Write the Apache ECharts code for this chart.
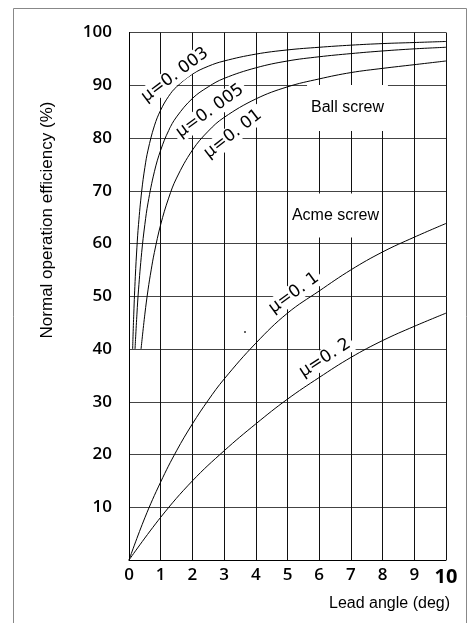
<!DOCTYPE html>
<html>
<head>
<meta charset="utf-8">
<script src="https://cdn.jsdelivr.net/npm/echarts@6/dist/echarts.min.js"></script>
<style>
html,body{margin:0;padding:0;background:#fff;}
#chart{width:472px;height:623px;}
</style>
</head>
<body>
<div id="chart"></div>
<script>
// Lead angle (deg) vs normal operation efficiency (%)
var mu003 = [[0.115,40],[0.15,46.6],[0.2,53.8],[0.25,59.3],[0.3,63.6],[0.4,69.9],[0.5,74.4],[0.6,77.7],[0.8,82.3],[1,85.3],[1.25,87.9],[1.5,89.7],[2,92.1],[2.5,93.6],[3,94.6],[4,95.9],[5,96.7],[6,97.2],[7,97.6],[8,97.9],[9,98.1],[10,98.3]];
var mu005 = [[0.19,40],[0.25,46.6],[0.3,51.2],[0.4,58.3],[0.5,63.6],[0.6,67.7],[0.8,73.6],[1,77.7],[1.25,81.4],[1.5,84.0],[2,87.5],[2.5,89.7],[3,91.3],[4,93.3],[5,94.6],[6,95.4],[7,96.0],[8,96.5],[9,96.9],[10,97.2]];
var mu01 = [[0.38,40],[0.5,46.6],[0.6,51.2],[0.7,55.0],[0.8,58.3],[1,63.6],[1.25,68.6],[1.5,72.4],[2,77.7],[2.5,81.3],[3,83.9],[4,87.4],[5,89.7],[6,91.2],[7,92.4],[8,93.2],[9,93.9],[10,94.6]];
var mu1 = [[0,0],[0.5,8.0],[1,14.8],[1.5,20.7],[2,25.8],[2.5,30.3],[3,34.3],[4,41.1],[5,46.8],[6,51.0],[7,55.0],[8,58.4],[9,61.2],[10,63.8]];
var mu2 = [[0,0],[1,8.1],[2,15.0],[3,20.7],[4,25.8],[5,30.5],[6,34.6],[7,38.4],[8,41.6],[9,44.3],[10,46.8]];
var stray = [[3.66,43.2]];
var xTicks = ['0','1','2','3','4','5','6','7','8','9','10'];
var yTicks = ['','10','20','30','40','50','60','70','80','90','100'];
var xTitle = 'Lead angle (deg)';
var yTitle = 'Normal operation efficiency (%)';
var curveLabels = ['μ=0. 003','μ=0. 005','μ=0. 01','μ=0. 1','μ=0. 2'];
var regionLabels = ['Ball screw','Acme screw'];

var chart = echarts.init(document.getElementById('chart'), null, {renderer:'canvas'});
function line(name, data){
  return {name:name, type:'line', data:data, showSymbol:false, symbol:'none', smooth:0.4,
    lineStyle:{color:'#000', width:1}, z:5, silent:true, animation:false};
}
var font = 'Liberation Sans, Arial, sans-serif';
var tickFont = '"Open Sans", "Noto Sans", sans-serif';
var deg = Math.PI/180;
function muLabel(text, x, y, rot){
  return {type:'text', x:x, y:y, rotation:rot*deg, z:100,
    style:{text:text, fill:'#000', font:'17px "DejaVu Sans", sans-serif', align:'center', verticalAlign:'middle',
      backgroundColor:'#fff', padding:[1,3]}};
}
var option = {
  animation:false,
  backgroundColor:'#fff',
  grid:{left:129, right:26, top:32.5, bottom:63, containLabel:false},
  xAxis:{type:'value', min:0, max:10, interval:1,
    axisLine:{show:true, onZero:false, lineStyle:{color:'#000', width:1}},
    axisTick:{show:false},
    axisLabel:{margin:7, color:'#000', fontFamily:tickFont, fontSize:17, fontWeight:600,
      formatter:function(v){var s = xTicks[Math.round(v)]; return s==='10' ? '{b|'+s+'}' : s;},
      rich:{b:{fontFamily:tickFont, fontSize:20, fontWeight:'bold', color:'#000'}}},
    splitLine:{show:true, lineStyle:{color:'#111', width:1}}
  },
  yAxis:{type:'value', min:0, max:100, interval:10,
    axisLine:{show:true, onZero:false, lineStyle:{color:'#000', width:1}},
    axisTick:{show:false},
    axisLabel:{margin:17, color:'#000', fontFamily:tickFont, fontSize:17, fontWeight:600,
      formatter:function(v){return yTicks[Math.round(v/10)];}},
    splitLine:{show:true, lineStyle:{color:'#444', width:1}}
  },
  series:[
    line('μ=0.003', mu003),
    line('μ=0.005', mu005),
    line('μ=0.01', mu01),
    line('μ=0.1', mu1),
    line('μ=0.2', mu2),
    {type:'scatter', data:stray, symbolSize:2, itemStyle:{color:'#000'}, silent:true}
  ],
  graphic:[
    {type:'rect', shape:{x:13.5, y:8.5, width:453, height:640}, style:{fill:null, stroke:'#888', lineWidth:1}, z:-1, silent:true},
    {type:'text', x:47, y:220, rotation:90*deg, z:100,
      style:{text:yTitle, fill:'#000', font:'17px '+font, align:'center', verticalAlign:'middle'}},
    {type:'text', x:450, y:604, z:100,
      style:{text:xTitle, fill:'#000', font:'16px '+font, align:'right', verticalAlign:'middle'}},
    muLabel(curveLabels[0], 175, 75, 37),
    muLabel(curveLabels[1], 210, 111, 36),
    muLabel(curveLabels[2], 233, 134, 38),
    muLabel(curveLabels[3], 294, 293, 36),
    muLabel(curveLabels[4], 325, 358, 33),
    {type:'text', x:347.5, y:108, z:100,
      style:{text:regionLabels[0], fill:'#000', font:'16px '+font, align:'center', verticalAlign:'middle',
        backgroundColor:'#fff', padding:[15,4]}},
    {type:'text', x:335.5, y:215.5, z:100,
      style:{text:regionLabels[1], fill:'#000', font:'16px '+font, align:'center', verticalAlign:'middle',
        backgroundColor:'#fff', padding:[14,2]}}
  ]
};
chart.setOption(option);
</script>
</body>
</html>
